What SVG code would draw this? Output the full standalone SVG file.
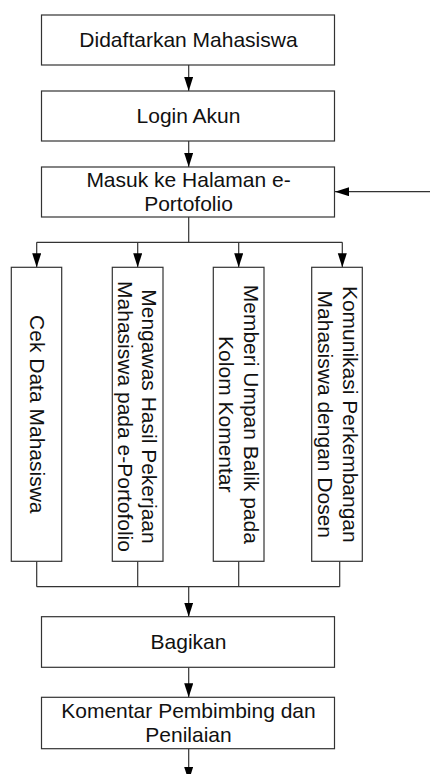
<svg xmlns="http://www.w3.org/2000/svg" width="430" height="774" viewBox="0 0 430 774">
<style>
.box{fill:#fff;stroke:#333;stroke-width:1.2}
.ln{fill:none;stroke:#333;stroke-width:1.2}
.t{font-family:"Liberation Sans",Arial,sans-serif;font-size:21px;fill:#111;text-anchor:middle}
</style>
<defs>
<marker id="ah" markerUnits="userSpaceOnUse" markerWidth="14" markerHeight="10" refX="14" refY="4.5" orient="auto">
<path d="M0,0 L14,4.5 L0,9 z" fill="#000"/>
</marker>
</defs>
<rect width="430" height="774" fill="#fff"/>
<g id="connectors">
<line class="ln" x1="188.7" y1="65" x2="188.7" y2="91" marker-end="url(#ah)"/>
<line class="ln" x1="188.7" y1="141" x2="188.7" y2="167" marker-end="url(#ah)"/>
<line class="ln" x1="430" y1="191.7" x2="335" y2="191.7" marker-end="url(#ah)"/>
<line class="ln" x1="188.7" y1="217" x2="188.7" y2="242.3"/>
<line class="ln" x1="36.7" y1="242.3" x2="342.3" y2="242.3"/>
<line class="ln" x1="36.7" y1="242.3" x2="36.7" y2="267.3" marker-end="url(#ah)"/>
<line class="ln" x1="137.7" y1="242.3" x2="137.7" y2="267.3" marker-end="url(#ah)"/>
<line class="ln" x1="238.7" y1="242.3" x2="238.7" y2="267.3" marker-end="url(#ah)"/>
<line class="ln" x1="342.3" y1="242.3" x2="342.3" y2="267.3" marker-end="url(#ah)"/>
<path class="ln" d="M36.7,561.3 V586.7 M137.7,561.3 V586.7 M238.7,561.3 V586.7 M339.7,561.3 V586.7 M36.7,586.7 H339.7"/>
<line class="ln" x1="188.7" y1="586.7" x2="188.7" y2="616.7" marker-end="url(#ah)"/>
<line class="ln" x1="188.7" y1="667.3" x2="188.7" y2="697.3" marker-end="url(#ah)"/>
<line class="ln" x1="188.7" y1="748.7" x2="188.7" y2="781" marker-end="url(#ah)"/>
</g>
<g id="n1"><rect class="box" x="41.5" y="15" width="293" height="50"/><text class="t" x="188.5" y="47.3">Didaftarkan Mahasiswa</text></g>
<g id="n2"><rect class="box" x="41.5" y="91" width="293" height="50"/><text class="t" x="188.5" y="123.3">Login Akun</text></g>
<g id="n3"><rect class="box" x="41.5" y="167" width="293" height="50"/><text class="t" x="188.5" y="187.4">Masuk ke Halaman e-</text><text class="t" x="188.5" y="211.4">Portofolio</text></g>
<g id="n4"><rect class="box" x="11.3" y="267.3" width="50.4" height="294"/><text class="t" transform="translate(30,414.3) rotate(90)">Cek Data Mahasiswa</text></g>
<g id="n5"><rect class="box" x="112.3" y="267.3" width="50.7" height="294"/><text class="t" transform="translate(142.3,416.5) rotate(90)">Mengawas Hasil Pekerjaan</text><text class="t" transform="translate(118.3,416.5) rotate(90)">Mahasiswa pada e-Portofolio</text></g>
<g id="n6"><rect class="box" x="213.3" y="267.3" width="50.7" height="294"/><text class="t" transform="translate(243.5,414.3) rotate(90)">Memberi Umpan Balik pada</text><text class="t" transform="translate(219.3,414.3) rotate(90)">Kolom Komentar</text></g>
<g id="n7"><rect class="box" x="311.7" y="267.3" width="50.6" height="294"/><text class="t" transform="translate(342.5,414.3) rotate(90)">Komunikasi Perkembangan</text><text class="t" transform="translate(317.5,414.3) rotate(90)">Mahasiswa dengan Dosen</text></g>
<g id="n8"><rect class="box" x="41.5" y="616.7" width="293" height="50.6"/><text class="t" x="188.5" y="649.4">Bagikan</text></g>
<g id="n9"><rect class="box" x="41.5" y="697.3" width="293" height="51.4"/><text class="t" x="188.5" y="718">Komentar Pembimbing dan</text><text class="t" x="188.5" y="742">Penilaian</text></g>
</svg>
